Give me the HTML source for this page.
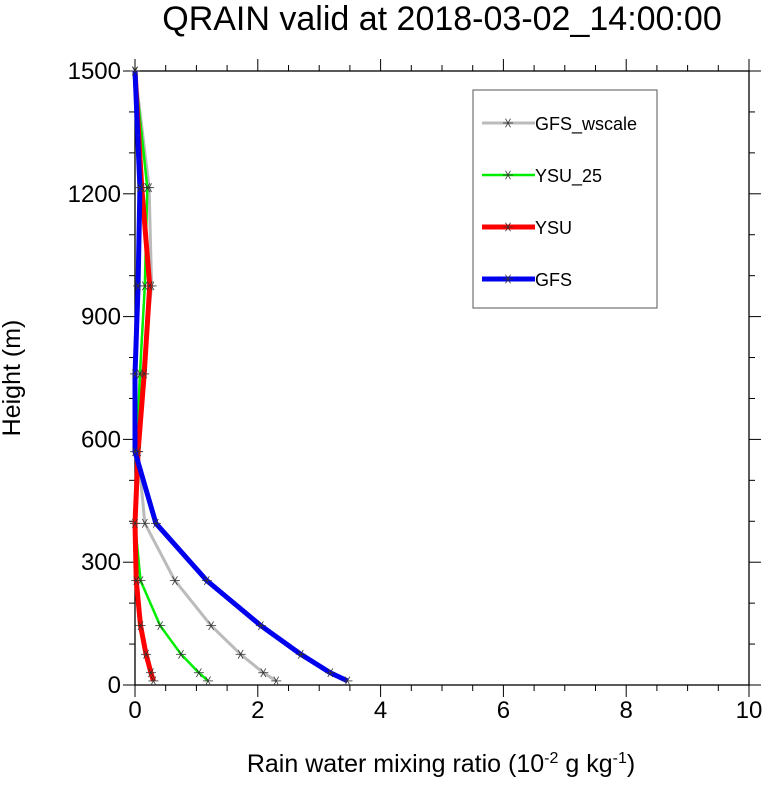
<!DOCTYPE html>
<html><head><meta charset="utf-8"><style>body{margin:0;background:#fff}svg{font-family:"Liberation Sans",sans-serif}</style></head>
<body>
<svg id="c" width="766" height="784">
<text x="442" y="30" text-anchor="middle" font-size="34">QRAIN valid at 2018-03-02_14:00:00</text>
<text transform="translate(20,378) rotate(-90)" text-anchor="middle" font-size="25">Height (m)</text>
<text x="441" y="772" text-anchor="middle" font-size="25">Rain water mixing ratio (10<tspan dy="-9" font-size="16">-2</tspan><tspan dy="9"> g kg</tspan><tspan dy="-9" font-size="16">-1</tspan><tspan dy="9">)</tspan></text>
<g id="plot"></g>
</svg>
<script>
const heights=[10,30,75,145,255,395,570,760,975,1215,1500];
const gfsWscale=[2.30,2.09,1.72,1.24,0.65,0.16,0.05,0.12,0.27,0.23,0];
const ysu25=[1.19,1.04,0.75,0.41,0.09,0.0,0.03,0.08,0.16,0.2,0];
const ysu=[0.30,0.26,0.18,0.09,0.02,0.0,0.05,0.15,0.24,0.11,0];
const gfs=[3.46,3.18,2.70,2.05,1.17,0.34,0.0,0.0,0.05,0.08,0];
const xTicks=[0,2,4,6,8,10];
const yTicks=[0,300,600,900,1200,1500];
const X0=135,X1=749,Y0=685,Y1=71;
const sx=v=>X0+(X1-X0)*v/10, sy=v=>Y0-(Y0-Y1)*v/1500;
const ns="http://www.w3.org/2000/svg",g=document.getElementById('plot');
function mk(t,a){const e=document.createElementNS(ns,t);for(const k in a)e.setAttribute(k,a[k]);g.appendChild(e);return e;}
let e=mk('rect',{x:X0,y:Y1,width:X1-X0,height:Y0-Y1,fill:'none',stroke:'#000','stroke-width':1.3});


for(let v=0;v<=10.001;v+=0.5){const x=sx(v),m=Math.abs(v%2)<1e-6,L=m?12:6;
 mk('line',{x1:x,x2:x,y1:Y0,y2:Y0+L,stroke:'#000','stroke-width':1});
 mk('line',{x1:x,x2:x,y1:Y1,y2:Y1-L,stroke:'#000','stroke-width':1});}
for(let v=0;v<=1500;v+=100){const y=sy(v),m=v%300===0,L=m?12:6;
 mk('line',{x1:X0,x2:X0-L,y1:y,y2:y,stroke:'#000','stroke-width':1});
 mk('line',{x1:X1,x2:X1+L,y1:y,y2:y,stroke:'#000','stroke-width':1});}
xTicks.forEach(v=>{e=mk('text',{x:sx(v),y:Y0+33,'text-anchor':'middle','font-size':24});e.textContent=v;

});
yTicks.forEach(v=>{e=mk('text',{x:X0-14,y:sy(v)+8,'text-anchor':'end','font-size':24});e.textContent=v;

});
const series=[["GFS_wscale",gfsWscale,"#bbbbbb",3],["YSU_25",ysu25,"#00ee00",2.5],["YSU",ysu,"#ff0000",5],["GFS",gfs,"#0000ee",5]];
function star(x,y){for(const a of [0,60,120]){const r=a*Math.PI/180;mk('line',{x1:x-5*Math.cos(r),y1:y-5*Math.sin(r),x2:x+5*Math.cos(r),y2:y+5*Math.sin(r),stroke:'#333','stroke-width':0.8});}}
series.forEach((s,i)=>{
 const pts=s[1].map((v,j)=>sx(v)+','+sy(heights[j])).join(' ');
 e=mk('polyline',{points:pts,fill:'none',stroke:s[2],'stroke-width':s[3],'stroke-linejoin':'round'});
 
 
 s[1].forEach((v,j)=>star(sx(v),sy(heights[j])));
 const ly=123+i*52;
 mk('line',{x1:482,x2:535,y1:ly,y2:ly,stroke:s[2],'stroke-width':s[3]});star(508,ly);
 e=mk('text',{x:535,y:ly+7,'font-size':18});e.textContent=s[0];
 
 
});
e=mk('rect',{x:473,y:90,width:184,height:218,fill:'none',stroke:'#555','stroke-width':1});


</script>
</body></html>
